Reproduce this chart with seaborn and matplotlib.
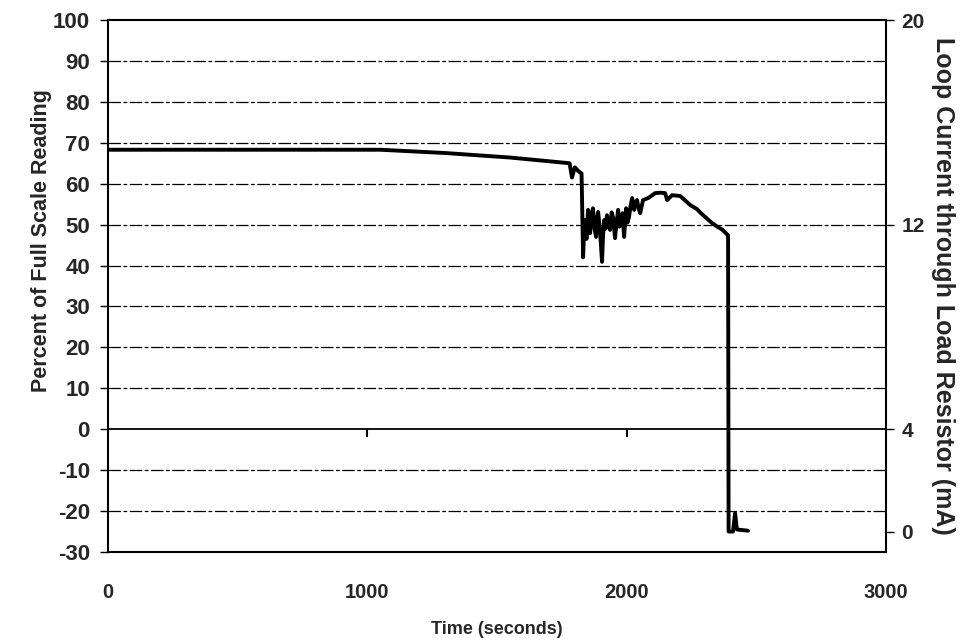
import numpy as np
import pandas as pd
import seaborn as sns
import matplotlib.pyplot as plt

time_s = [0, 1050, 1300, 1550, 1780, 1789, 1800, 1815, 1826, 1832,
          1836, 1840, 1845, 1851, 1855, 1859, 1864, 1870, 1876, 1882,
          1886, 1890, 1897, 1905, 1909, 1913, 1918, 1924, 1930, 1936,
          1942, 1948, 1955, 1961, 1967, 1972, 1978, 1984, 1990, 1998,
          2003, 2009, 2015, 2021, 2029, 2034, 2040, 2046, 2052, 2063,
          2083, 2110, 2129, 2148, 2156, 2175, 2206, 2245, 2271, 2283,
          2302, 2329, 2352, 2368, 2391, 2393, 2410, 2418, 2425, 2468]
percent = [68.3, 68.3, 67.5, 66.4, 65.0, 61.5, 64.0, 63.0, 62.5, 42.0,
           49.0, 51.1, 46.5, 53.6, 49.5, 47.9, 52.5, 54.0, 49.0, 47.0,
           51.5, 53.1, 48.7, 40.9, 47.5, 51.1, 49.0, 52.3, 50.0, 48.7,
           53.0, 51.6, 46.7, 50.5, 53.6, 49.5, 51.1, 52.8, 47.0, 54.0,
           50.5, 51.9, 54.5, 56.5, 53.6, 55.5, 56.0, 54.0, 52.8, 56.0,
           56.5, 57.7, 57.8, 57.7, 56.0, 57.2, 57.0, 54.8, 53.8, 53.0,
           51.9, 50.4, 49.4, 48.8, 47.4, -25.0, -25.0, -20.5, -24.5, -24.8]

y_ticks = list(range(-30, 101, 10))
x_ticks = [0, 1000, 2000, 3000]
ma_ticks = [0, 4, 12, 20]

df = pd.DataFrame({'Time (seconds)': time_s, 'Percent': percent})

sns.set_style('white')
plt.rcParams['font.family'] = ['Liberation Sans', 'DejaVu Sans']
plt.rcParams['font.weight'] = 'bold'
plt.rcParams['axes.unicode_minus'] = False

fig = plt.figure(figsize=(9.68, 6.42), dpi=100)
ax = fig.add_axes([0.1116, 0.1402, 0.8037, 0.8286])

ax.set_xlim(0, 3000)
ax.set_ylim(-30, 100)

# dash-dot grid lines, solid zero line
for v in y_ticks:
    if v in (-30, 0, 100):
        continue
    ax.axhline(v, color='black', lw=0.9, ls=(0, (10, 2, 3, 2)), zorder=1)
ax.axhline(0, color='black', lw=1.3, zorder=2)

sns.lineplot(data=df, x='Time (seconds)', y='Percent', color='black',
             lw=2.8, ax=ax, zorder=3)

ax.set_yticks(y_ticks)
ax.set_xticks(x_ticks)
ax.tick_params(axis='y', direction='out', length=6, width=1, color='black',
               labelsize=16, left=True, pad=7)
ax.tick_params(axis='x', length=0, labelsize=14.5, pad=22)
ax.set_xlabel('Time (seconds)', fontsize=13, fontweight='bold', labelpad=14)
ax.set_ylabel('Percent of Full Scale Reading', fontsize=15.5,
              fontweight='bold')
ax.yaxis.set_label_coords(-0.072, 0.585)
for s in ax.spines.values():
    s.set_color('black')
    s.set_linewidth(1.5)

# tick marks on the zero line
zero_loc = (0 - (-30)) / (100 - (-30))
sec = ax.secondary_xaxis(zero_loc)
sec.set_xticks([1000, 2000])
sec.set_xticklabels(['', ''])
sec.tick_params(direction='out', length=6, width=1.5, color='black')
sec.spines['bottom'].set_visible(False)

# right axis in mA (4-20 mA loop)
ax2 = ax.twinx()
ax2.set_ylim(4 + (-30) * 0.16, 4 + 100 * 0.16)
ax2.set_yticks(ma_ticks)
ax2.tick_params(axis='y', direction='out', length=6, width=1, color='black',
                labelsize=15, right=True, pad=5)
ax2.set_ylabel('Loop Current through Load Resistor (mA)', fontsize=18,
               fontweight='bold', rotation=270, labelpad=22)
for s in ax2.spines.values():
    s.set_visible(False)

fig.savefig('out.png', dpi=100, facecolor='white')
